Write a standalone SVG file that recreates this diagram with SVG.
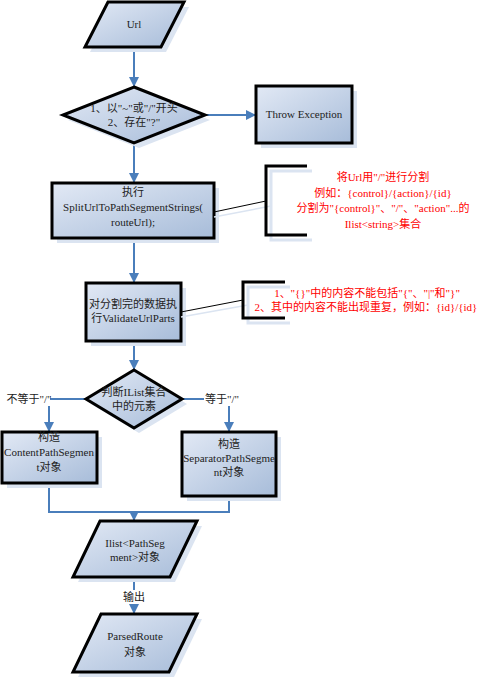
<svg xmlns="http://www.w3.org/2000/svg" width="490" height="679" viewBox="0 0 490 679">
<defs>
<linearGradient id="g" x1="0" y1="0" x2="1" y2="1">
<stop offset="0" stop-color="#e2e9f5"/>
<stop offset="1" stop-color="#a7bcd9"/>
</linearGradient>
<marker id="ah" markerWidth="10" markerHeight="10" refX="9" refY="5" orient="auto" markerUnits="userSpaceOnUse">
<path d="M0,0 L10,5 L0,10 Z" fill="#4a7ebb"/>
</marker>
<style>
.sh{fill:#dbe4f1;stroke:none}
.nd{fill:url(#g);stroke:#000;stroke-width:3;stroke-linejoin:miter}
.t{font-family:"Liberation Serif","Noto Sans CJK SC",serif;font-size:11px;fill:#222;text-anchor:middle}
.r{font-family:"Liberation Serif","Noto Sans CJK SC",serif;font-size:11px;fill:#ff0000;text-anchor:middle}
.c{fill:none;stroke:#4a7ebb;stroke-width:2}
.a{marker-end:url(#ah)}
.br{fill:none;stroke:#000;stroke-width:3}
.brs{fill:none;stroke:#dbe4f1;stroke-width:3}
</style>
</defs>
<rect width="490" height="679" fill="#fff"/>
<g id="connectors">
<line class="c a" x1="134" y1="47" x2="134" y2="86"/>
<line class="c a" x1="205" y1="115" x2="255" y2="115"/>
<line class="c a" x1="134" y1="143" x2="134" y2="182"/>
<line class="c a" x1="134" y1="238" x2="134" y2="282"/>
<line class="c a" x1="134" y1="341" x2="134" y2="369"/>
<polyline class="c a" points="86,399 49,399 49,431"/>
<polyline class="c a" points="182,399 229,399 229,431"/>
<polyline class="c" points="49,483 49,512 229,512 229,496"/>
<line class="c a" x1="134" y1="512" x2="134" y2="520"/>
<line class="c a" x1="134" y1="577" x2="134" y2="613"/>
<rect x="8" y="392" width="42" height="14" fill="#fff"/>
<text class="t" x="29" y="403">不等于"/"</text>
<rect x="204" y="392" width="38" height="14" fill="#fff"/>
<text class="t" x="222" y="403">等于"/"</text>
<rect x="122" y="590" width="24" height="14" fill="#fff"/>
<text class="t" x="134" y="601">输出</text>
</g>
<g id="url">
<polygon class="sh" points="113,7 189,7 166,52 90,52"/>
<polygon class="nd" points="108,2 184,2 161,47 85,47"/>
<text class="t" x="134" y="28">Url</text>
</g>
<g id="check">
<polygon class="sh" points="139,92 210,120 139,148 68,120"/>
<polygon class="nd" points="134,87 205,115 134,143 63,115"/>
<text class="t" x="134" y="112">1、以"~"或"/"开头</text>
<text class="t" x="134" y="126">2、存在"?"</text>
</g>
<g id="throw">
<rect class="sh" x="261" y="91" width="96" height="57"/>
<rect class="nd" x="256" y="86" width="96" height="57"/>
<text class="t" x="304" y="118">Throw Exception</text>
</g>
<g id="split">
<rect class="sh" x="57" y="188" width="162" height="55"/>
<rect class="nd" x="52" y="183" width="162" height="55"/>
<text class="t" x="133" y="196">执行</text>
<text class="t" x="133" y="211">SplitUrlToPathSegmentStrings(</text>
<text class="t" x="133" y="226">routeUrl);</text>
</g>
<g id="note1">
<line x1="214" y1="217" x2="271" y2="206" stroke="#dbe4f1" stroke-width="1.5"/>
<line x1="214" y1="212" x2="266" y2="201" stroke="#000" stroke-width="1"/>
<path class="brs" d="M312,171 H271 V240 H312"/>
<path class="br" d="M307,166 H266 V235 H307"/>
<text class="r" x="383" y="181">将Url用"/"进行分割</text>
<text class="r" x="383" y="197">例如：{control}/{action}/{id}</text>
<text class="r" x="383" y="212">分割为"{control}"、"/"、"action"...的</text>
<text class="r" x="383" y="228">Ilist&lt;string&gt;集合</text>
</g>
<g id="validate">
<rect class="sh" x="91" y="288" width="95" height="58"/>
<rect class="nd" x="86" y="283" width="95" height="58"/>
<text class="t" x="133" y="308">对分割完的数据执</text>
<text class="t" x="133" y="322">行ValidateUrlParts</text>
</g>
<g id="note2">
<line x1="181" y1="317" x2="248" y2="305" stroke="#dbe4f1" stroke-width="1.5"/>
<line x1="181" y1="312" x2="243" y2="300" stroke="#000" stroke-width="1"/>
<path class="brs" d="M290,287 H248 V323 H290"/>
<path class="br" d="M285,282 H243 V318 H285"/>
<text class="r" x="367" y="297">1、"{}"中的内容不能包括"{"、"|"和"}"</text>
<text class="r" x="366" y="311">2、其中的内容不能出现重复，例如：{id}/{id}</text>
</g>
<g id="judge">
<polygon class="sh" points="139,375 187,404 139,433 91,404"/>
<polygon class="nd" points="134,370 182,399 134,428 86,399"/>
<text class="t" x="134" y="396">判断IList集合</text>
<text class="t" x="134" y="410">中的元素</text>
</g>
<g id="content">
<rect class="sh" x="7" y="437" width="95" height="51"/>
<rect class="nd" x="2" y="432" width="95" height="51"/>
<text class="t" x="49" y="441">构造</text>
<text class="t" x="49" y="456">ContentPathSegmen</text>
<text class="t" x="49" y="471">t对象</text>
</g>
<g id="separator">
<rect class="sh" x="187" y="437" width="94" height="64"/>
<rect class="nd" x="182" y="432" width="94" height="64"/>
<text class="t" x="229" y="448">构造</text>
<text class="t" x="229" y="462">SeparatorPathSegme</text>
<text class="t" x="229" y="476">nt对象</text>
</g>
<g id="ilist">
<polygon class="sh" points="105,526 202,526 175,582 78,582"/>
<polygon class="nd" points="100,521 197,521 170,577 73,577"/>
<text class="t" x="135" y="547">Ilist&lt;PathSeg</text>
<text class="t" x="135" y="561">ment&gt;对象</text>
</g>
<g id="parsed">
<polygon class="sh" points="106,619 202,619 174,677 78,677"/>
<polygon class="nd" points="101,614 197,614 169,672 73,672"/>
<text class="t" x="135" y="640">ParsedRoute</text>
<text class="t" x="135" y="656">对象</text>
</g>
</svg>
